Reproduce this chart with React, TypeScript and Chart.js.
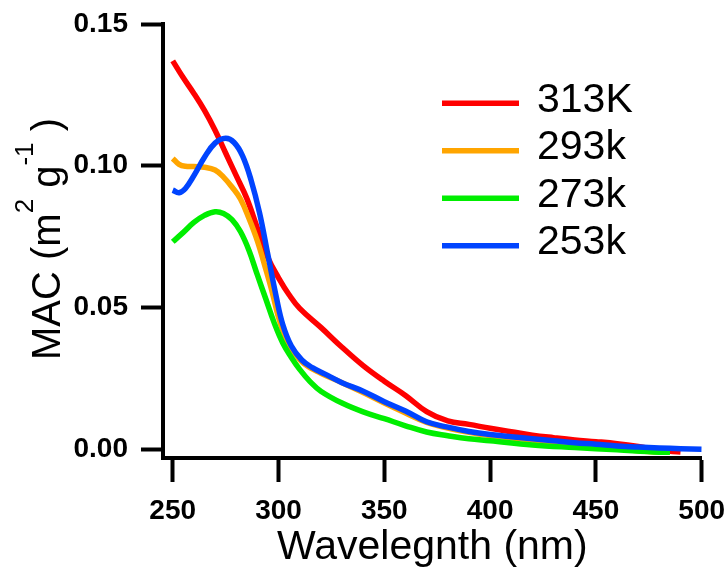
import React, { useEffect, useRef } from 'react';
import { Chart, registerables } from 'chart.js';

Chart.register(...registerables);

const FONT = "'Liberation Sans', Arial, Helvetica, sans-serif";

// ---- data ----
const xTicks = [250, 300, 350, 400, 450, 500];
const yTicks = [0, 0.05, 0.1, 0.15];

const seriesLabels = ['313K', '293k', '273k', '253k'];
const seriesColors = ['#ff0000', '#ffa500', '#00ee00', '#0044ff'];

const redX = [250, 255, 260, 265, 270, 275, 280, 285, 290, 295, 300, 305, 310, 320, 330, 340, 350, 360, 370, 380, 390, 400, 410, 420, 430, 440, 450, 460, 470, 480, 490];
const redY = [0.137, 0.131, 0.1255, 0.1195, 0.1125, 0.1045, 0.0965, 0.0885, 0.078, 0.0675, 0.0605, 0.0545, 0.0497, 0.043, 0.036, 0.0295, 0.024, 0.019, 0.0133, 0.01, 0.0088, 0.0074, 0.0062, 0.005, 0.0041, 0.0033, 0.0027, 0.002, 0.001, -0.0003, -0.001];

const orangeX = [250, 253, 256, 260, 265, 270, 274, 278, 282, 286, 290, 294, 297, 300, 303, 307, 312, 320, 330, 340, 350, 360, 370, 380, 390, 400, 420, 440, 460, 470, 480];
const orangeY = [0.1026, 0.1005, 0.0998, 0.0997, 0.0995, 0.0985, 0.096, 0.0925, 0.0883, 0.0815, 0.0735, 0.0635, 0.0555, 0.0465, 0.04, 0.0345, 0.0302, 0.0268, 0.0235, 0.02, 0.0163, 0.0128, 0.0095, 0.0075, 0.006, 0.0048, 0.0033, 0.0018, 0.0003, -0.0005, -0.001];

const greenX = [250, 255, 260, 265, 270, 274, 278, 282, 286, 290, 294, 298, 302, 306, 310, 315, 320, 330, 340, 350, 360, 370, 380, 390, 400, 420, 440, 460, 480, 485];
const greenY = [0.0732, 0.0765, 0.08, 0.0825, 0.0838, 0.0832, 0.081, 0.0768, 0.0702, 0.0615, 0.053, 0.0445, 0.0375, 0.0325, 0.0282, 0.0238, 0.0205, 0.0163, 0.0132, 0.0108, 0.0083, 0.0061, 0.0048, 0.0037, 0.003, 0.0015, 0.0006, -0.0002, -0.001, -0.001];

const blueX = [250, 253, 256, 260, 265, 270, 275, 279, 283, 287, 291, 295, 299, 302, 306, 311, 316, 322, 330, 340, 350, 360, 370, 380, 390, 400, 410, 420, 430, 440, 450, 460, 470, 480, 490, 500];
const blueY = [0.0914, 0.0905, 0.092, 0.0965, 0.103, 0.108, 0.1097, 0.1082, 0.1035, 0.095, 0.0835, 0.0685, 0.0535, 0.044, 0.0365, 0.0315, 0.0288, 0.0265, 0.0235, 0.0205, 0.0168, 0.0135, 0.0097, 0.0078, 0.0063, 0.0052, 0.0044, 0.0037, 0.003, 0.0023, 0.0018, 0.0012, 0.0008, 0.0005, 0.0002, 0];

const seriesX = [redX, orangeX, greenX, blueX];
const seriesY = [redY, orangeY, greenY, blueY];

function zip(xs: number[], ys: number[]) {
  return xs.map((x, i) => ({ x, y: ys[i] }));
}

const customText = {
  id: 'customText',
  afterDraw(chart: any) {
    const ctx: CanvasRenderingContext2D = chart.ctx;
    ctx.save();
    ctx.fillStyle = '#000';
    // y-axis title with superscripts
    const parts = [
      { t: 'MAC (m', sup: false },
      { t: '2', sup: true },
      { t: ' g', sup: false },
      { t: '-1', sup: true },
      { t: ' )', sup: false },
    ];
    const mainFont = `40px ${FONT}`;
    const supFont = `26px ${FONT}`;
    let total = 0;
    const widths = parts.map((p) => {
      ctx.font = p.sup ? supFont : mainFont;
      const w = ctx.measureText(p.t).width;
      total += w;
      return w;
    });
    ctx.textBaseline = 'alphabetic';
    ctx.textAlign = 'left';
    ctx.translate(60, 239 + total / 2);
    ctx.rotate(-Math.PI / 2);
    let x = 0;
    parts.forEach((p, i) => {
      ctx.font = p.sup ? supFont : mainFont;
      ctx.fillText(p.t, x, p.sup ? -27 : 0);
      x += widths[i];
    });
    ctx.restore();

    // legend
    ctx.save();
    const ds = chart.data.datasets;
    ctx.font = `41px ${FONT}`;
    ctx.textBaseline = 'middle';
    ctx.textAlign = 'left';
    ds.forEach((d: any, i: number) => {
      const y = 103.3 + i * 47.5;
      ctx.strokeStyle = d.borderColor;
      ctx.lineWidth = 5.5;
      ctx.beginPath();
      ctx.moveTo(442, y);
      ctx.lineTo(519, y);
      ctx.stroke();
      ctx.fillStyle = '#000';
      ctx.fillText(d.label, 537, y - 3);
    });
    ctx.restore();
  },
};

export default function App() {
  const ref = useRef<HTMLCanvasElement>(null);
  useEffect(() => {
    const datasets = seriesLabels.map((label, i) => ({
      label,
      data: zip(seriesX[i], seriesY[i]),
      borderColor: seriesColors[i],
      backgroundColor: seriesColors[i],
      borderWidth: 5.5,
      pointRadius: 0,
      tension: 0.4,
      fill: false,
      order: 4 - i,
    }));
    const chart = new Chart(ref.current!, {
      type: 'line',
      data: { datasets },
      options: {
        responsive: false,
        animation: false,
        layout: { padding: { left: 0, right: 25.3, top: 24, bottom: 0 } },
        plugins: { legend: { display: false }, tooltip: { enabled: false } },
        scales: {
          x: {
            type: 'linear',
            min: 245.4,
            max: 500,
            afterBuildTicks: (s: any) => {
              s.ticks = xTicks.map((v) => ({ value: v }));
            },
            afterFit: (s: any) => {
              s.height = 115;
              s.paddingLeft = 0;
              s.paddingRight = 0;
            },
            border: { display: true, color: '#000', width: 4 },
            grid: { display: true, drawOnChartArea: false, drawTicks: true, tickLength: 24, tickWidth: 4, tickColor: '#000' },
            ticks: {
              font: { family: FONT, size: 28, weight: 'bold' },
              color: '#000',
              padding: 12,
              maxRotation: 0,
              autoSkip: false,
              callback: (v: any) => String(v),
            },
            title: {
              display: true,
              text: 'Wavelegnth (nm)',
              font: { family: FONT, size: 41, lineHeight: 1 },
              color: '#000',
              padding: { top: 0, bottom: 5 },
            },
          },
          y: {
            type: 'linear',
            min: -0.00307,
            max: 0.15,
            afterBuildTicks: (s: any) => {
              s.ticks = yTicks.map((v) => ({ value: v }));
            },
            afterFit: (s: any) => {
              s.width = 163;
              s.paddingTop = 0;
              s.paddingBottom = 0;
            },
            border: { display: true, color: '#000', width: 4 },
            grid: { display: true, drawOnChartArea: false, drawTicks: true, tickLength: 22, tickWidth: 4, tickColor: '#000' },
            ticks: {
              font: { family: FONT, size: 28, weight: 'bold' },
              color: '#000',
              padding: 13,
              autoSkip: false,
              callback: (v: any) => Number(v).toFixed(2),
            },
          },
        },
      },
      plugins: [customText],
    });
    return () => chart.destroy();
  }, []);
  return (
    <div style={{ position: 'absolute', left: 0, top: 0, width: 727, height: 573, background: '#fff' }}>
      <canvas ref={ref} width={727} height={573} style={{ display: 'block' }} />
    </div>
  );
}
